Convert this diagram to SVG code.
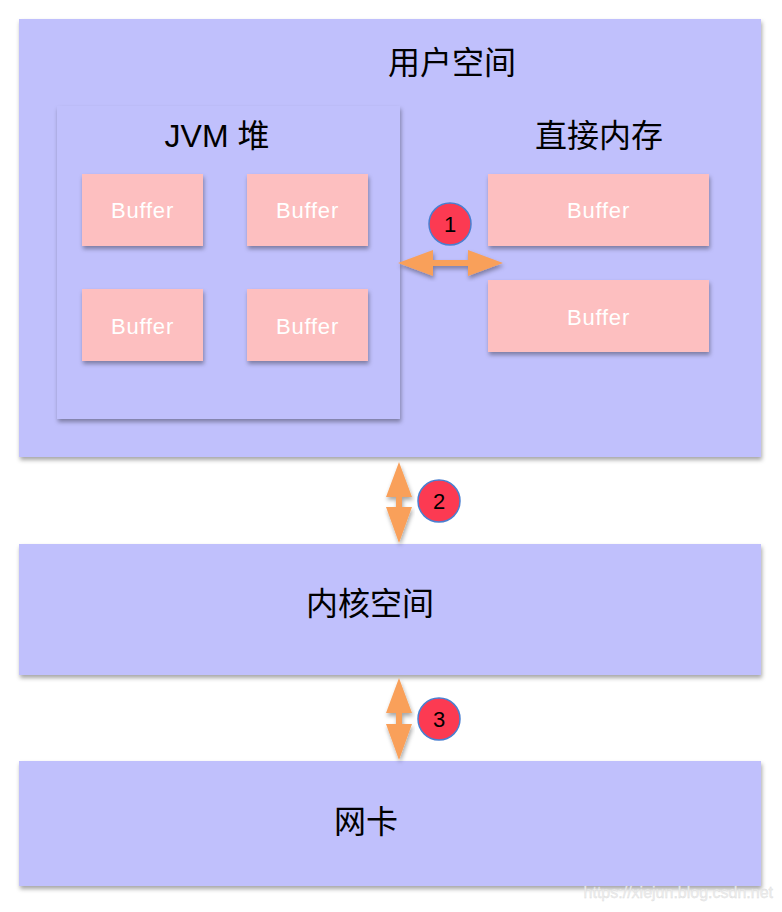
<svg xmlns="http://www.w3.org/2000/svg" width="782" height="912" viewBox="0 0 782 912">
<defs>
<filter id="sh" x="-10%" y="-10%" width="120%" height="130%">
<feDropShadow dx="1" dy="3" stdDeviation="2" flood-color="#000" flood-opacity="0.35"/>
</filter>
<style>
.area{fill:#c0c0fc;filter:url(#sh)}
.buf{fill:#fdbfc0;filter:url(#sh)}
.bt{font-family:"Liberation Sans",Arial,sans-serif;font-size:22px;letter-spacing:0.8px;fill:#fff;text-anchor:middle}
.lab{font-family:"Liberation Sans","Noto Sans CJK SC",sans-serif;font-size:32px;fill:#000;text-anchor:middle}
.arr{fill:#f9a05a;filter:url(#sh)}
.num{fill:#fc3a52;stroke:#4a7fd0;stroke-width:1.5}
.nt{font-family:"Liberation Sans",Arial,sans-serif;font-size:22px;fill:#000;text-anchor:middle}
</style>
</defs>
<rect width="782" height="912" fill="#fff"/>
<g id="user-space">
<rect class="area" x="19" y="19" width="742" height="438"/>
<text class="lab" x="452" y="74">用户空间</text>
</g>
<g id="jvm-heap">
<rect class="area" x="57" y="106" width="343" height="313"/>
<text class="lab" x="217" y="147">JVM 堆</text>
</g>
<g id="heap-buf-1"><rect class="buf" x="82" y="174" width="121" height="72"/><text class="bt" x="142.5" y="218">Buffer</text></g>
<g id="heap-buf-2"><rect class="buf" x="247" y="174" width="121" height="72"/><text class="bt" x="307.5" y="218">Buffer</text></g>
<g id="heap-buf-3"><rect class="buf" x="82" y="289" width="121" height="72"/><text class="bt" x="142.5" y="334">Buffer</text></g>
<g id="heap-buf-4"><rect class="buf" x="247" y="289" width="121" height="72"/><text class="bt" x="307.5" y="334">Buffer</text></g>
<g id="direct-memory"><text class="lab" x="599" y="147">直接内存</text></g>
<g id="direct-buf-1"><rect class="buf" x="488" y="174" width="221" height="72"/><text class="bt" x="598.5" y="218">Buffer</text></g>
<g id="direct-buf-2"><rect class="buf" x="488" y="280" width="221" height="72"/><text class="bt" x="598.5" y="325">Buffer</text></g>
<g id="kernel-space">
<rect class="area" x="19" y="544" width="742" height="131"/>
<text class="lab" x="370" y="615">内核空间</text>
</g>
<g id="nic">
<rect class="area" x="19" y="761" width="742" height="125"/>
<text class="lab" x="366" y="833">网卡</text>
</g>
<g id="connectors">
<polygon class="arr" points="398,263 433,250 433,260 468,260 468,250 503,263 468,276 468,266 433,266 433,276"/>
<polygon class="arr" points="399,462 412,497 402,497 402,507 412,507 399,543 386,507 396,507 396,497 386,497"/>
<polygon class="arr" points="399,678 412,713 402,713 402,724 412,724 399,760 386,724 396,724 396,713 386,713"/>
</g>
<g id="badge-1"><circle class="num" cx="450" cy="224" r="21"/><text class="nt" x="450" y="232">1</text></g>
<g id="badge-2"><circle class="num" cx="439" cy="501" r="21"/><text class="nt" x="439" y="509">2</text></g>
<g id="badge-3"><circle class="num" cx="439" cy="719" r="21"/><text class="nt" x="439" y="727">3</text></g>
<text x="773" y="898" font-family="'Liberation Sans',Arial,sans-serif" font-size="16" fill="#eeeeee" stroke="#d8d8d8" stroke-width="0.3" text-anchor="end">https://xiejun.blog.csdn.net</text>
</svg>
